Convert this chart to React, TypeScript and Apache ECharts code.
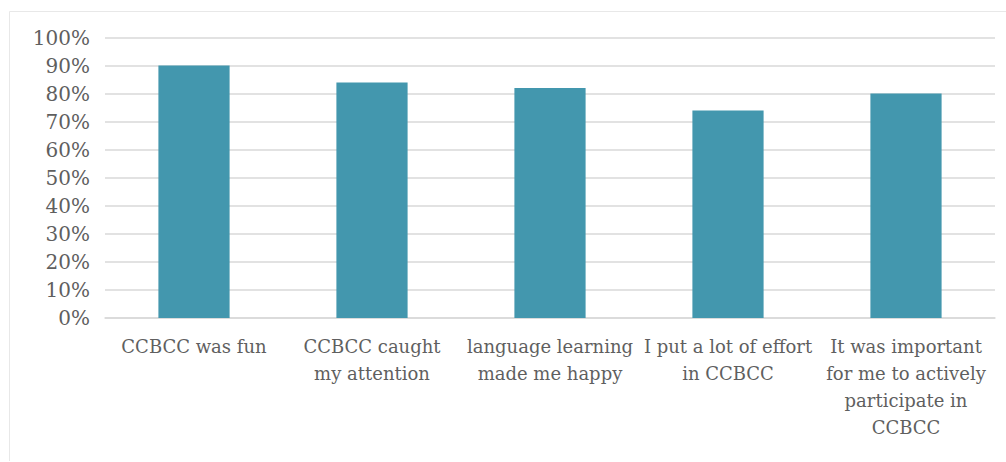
import React, { useEffect, useRef } from "react";
import * as echarts from "echarts";

const categories = [
  "CCBCC was fun",
  "CCBCC caught\nmy attention",
  "language learning\nmade me happy",
  "I put a lot of effort\nin CCBCC",
  "It was important\nfor me to actively\nparticipate in\nCCBCC",
];
const values = [90, 84, 82, 74, 80];
const yMin = 0;
const yMax = 100;
const yStep = 10;

export default function App() {
  const ref = useRef<HTMLDivElement>(null);
  useEffect(() => {
    if (!ref.current) return;
    const chart = echarts.init(ref.current, null, { renderer: "svg" });
    const font = "DejaVu Serif";
    chart.setOption({
      animation: false,
      backgroundColor: "#ffffff",
      textStyle: { fontFamily: font },
      graphic: [
        {
          type: "polyline",
          shape: { points: [[9.5, 461], [9.5, 11.5], [1006, 11.5]] },
          style: { stroke: "#e8e8e8", lineWidth: 1, fill: "none" },
          silent: true,
        },
      ],
      grid: { left: 105, right: 11, top: 37.5, bottom: 144, containLabel: false },
      xAxis: {
        type: "category",
        data: categories,
        axisLine: { show: true, lineStyle: { color: "#d9d9d9", width: 1.5 } },
        axisTick: { show: false },
        axisLabel: {
          interval: 0,
          color: "#5f5f5f",
          fontFamily: font,
          fontSize: 18,
          lineHeight: 27,
          margin: 15,
        },
      },
      yAxis: {
        type: "value",
        min: yMin,
        max: yMax,
        interval: yStep,
        axisLine: { show: false },
        axisTick: { show: false },
        splitLine: { show: true, lineStyle: { color: "#d9d9d9", width: 1.5 } },
        axisLabel: {
          color: "#5f5f5f",
          fontFamily: font,
          fontSize: 20,
          margin: 15,
          formatter: (v: number) => v + "%",
        },
      },
      series: [
        {
          type: "bar",
          data: values,
          barWidth: "40%",
          itemStyle: { color: "#4397AE" },
        },
      ],
    });
    return () => chart.dispose();
  }, []);
  return (
    <div
      ref={ref}
      style={{ position: "fixed", left: 0, top: 0, width: 1006, height: 462 }}
    />
  );
}
